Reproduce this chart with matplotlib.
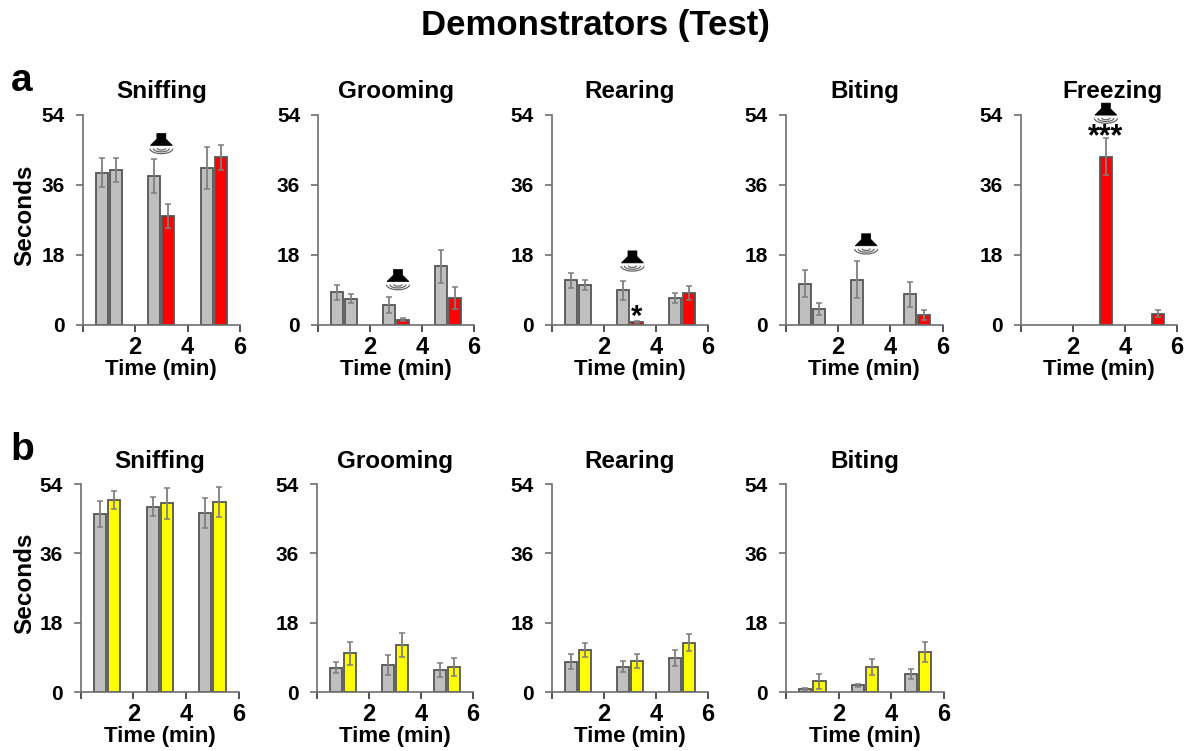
"""Demonstrators (Test): behaviour time per 2-min bin, panels a (red) and b (yellow)."""
import numpy as np
import matplotlib
matplotlib.use("Agg")
import matplotlib.pyplot as plt
from matplotlib.lines import Line2D
from matplotlib.patches import Polygon
from matplotlib.transforms import Affine2D

plt.rcParams["font.family"] = ["Liberation Sans", "DejaVu Sans"]
plt.rcParams["font.weight"] = "bold"

# ── Data (seconds) ────────────────────────────────────────────────────────────
BAR_X = [0.73, 1.27, 2.73, 3.27, 4.73, 5.27]
Y_TICKS = [0, 18, 36, 54]
X_TICKS = [0, 2, 4, 6]
X_LABELS = ["", "2", "4", "6"]

BEHAVIOURS_A = ["Sniffing", "Grooming", "Rearing", "Biting", "Freezing"]
BEHAVIOURS_B = ["Sniffing", "Grooming", "Rearing", "Biting"]

A_SNIFF = [39.2, 39.9, 38.3, 28.0, 40.4, 43.1]
A_SNIFF_ERR = [3.7, 3.1, 4.3, 3.0, 5.3, 3.2]
A_GROOM = [8.4, 6.8, 5.2, 1.4, 15.1, 6.9]
A_GROOM_ERR = [2.0, 1.2, 2.1, 0.4, 4.2, 2.8]
A_REAR = [11.5, 10.3, 8.9, 0.7, 7.0, 8.2]
A_REAR_ERR = [2.0, 1.4, 2.4, 0.3, 1.3, 1.8]
A_BITE = [10.6, 4.1, 11.7, 0, 7.9, 2.6]
A_BITE_ERR = [3.5, 1.5, 4.8, 0, 3.2, 1.2]
A_FREEZE = [0, 0, 0, 43.3, 0, 2.9]
A_FREEZE_ERR = [0, 0, 0, 4.8, 0, 0.9]

B_SNIFF = [46.2, 49.9, 48.1, 49.0, 46.5, 49.3]
B_SNIFF_ERR = [3.4, 2.3, 2.4, 4.0, 3.8, 3.9]
B_GROOM = [6.3, 10.1, 7.0, 12.2, 5.7, 6.5]
B_GROOM_ERR = [1.4, 3.0, 2.7, 3.1, 1.7, 2.3]
B_REAR = [7.9, 10.9, 6.6, 8.1, 8.8, 12.8]
B_REAR_ERR = [2.0, 1.9, 1.4, 1.8, 2.1, 2.2]
B_BITE = [0.7, 2.8, 1.7, 6.4, 4.7, 10.4]
B_BITE_ERR = [0.3, 2.0, 0.5, 2.1, 1.3, 2.7]

# which bars carry the row colour
HIGHLIGHT_A = [3, 5]
HIGHLIGHT_B = [1, 3, 5]

# speaker position per panel of row a: (time, seconds at the bottom of the icon)
SPEAKERS_A = [(3.0, 43.6), (3.07, 8.6), (3.1, 13.4), (3.07, 17.8), (3.27, 51.4)]
# ─────────────────────────────────────────────────────────────────────────────

W, H = 1188, 751
EDGE = "#555555"
AXIS = "#6e6e6e"
ERR = "#7f7f7f"
GREY = "#bfbfbf"

ROW_A = (115, 325, [82.7, 318.3, 551.7, 786, 1021], [240, 474, 708, 942.7, 1176.7])
ROW_B = (484, 692, [80.7, 316.7, 551.7, 786], [238.7, 473, 708, 944])


def panel_axes(fig, left, right, top, bottom):
    return fig.add_axes([left / W, 1 - bottom / H, (right - left) / W, (bottom - top) / H])


def draw_speaker(ax, x, y):
    """Small speaker icon, drawn in pixels above the anchor (x, y) in data coords."""
    px, py = ax.transData.transform((x, y))
    tr = Affine2D().translate(px, py)
    body = [(-4.5, 22), (4.5, 22), (4.5, 16.5), (11, 10), (-11, 10), (-4.5, 16.5)]
    ax.add_artist(Polygon(body, closed=True, fc="black", ec="black", lw=0.5,
                          transform=tr, clip_on=False))
    theta = np.linspace(np.pi * 1.05, np.pi * 1.95, 24)
    for rx, ry in [(4, 1.6), (8, 3.4), (11.5, 5.2)]:
        ax.add_artist(Line2D(rx * np.cos(theta), 7.0 + ry * np.sin(theta),
                             color="#666666", lw=0.9, transform=tr, clip_on=False))


def draw_panel(fig, box, title, values, errors, colour, highlight, ylabel=False, title_x=0.5):
    left, right, top, bottom = box
    ax = panel_axes(fig, left, right, top, bottom)
    colours = [colour if i in highlight else GREY for i in range(len(values))]
    for x, v, e, c in zip(BAR_X, values, errors, colours):
        if v == 0:
            continue
        ax.bar(x, v, width=0.46, color=c, edgecolor=EDGE, linewidth=1.3, zorder=2)
        ax.errorbar(x, v, yerr=e, ecolor=ERR, elinewidth=1.3, capsize=2.2,
                    capthick=1.1, fmt="none", zorder=3)
    ax.set_xlim(0, 6)
    ax.set_ylim(0, 54)
    ax.set_xticks(X_TICKS, X_LABELS)
    ax.set_yticks(Y_TICKS)
    ax.patch.set_alpha(0)
    for side in ("top", "right"):
        ax.spines[side].set_visible(False)
    for side in ("left", "bottom"):
        ax.spines[side].set_color(AXIS)
        ax.spines[side].set_linewidth(1.2)
    ax.tick_params(axis="x", length=5, width=1.2, color="#333333", pad=3, labelsize=17)
    ax.tick_params(axis="y", length=5, width=1.2, color=AXIS, pad=8, labelsize=15)
    for lab in ax.get_xticklabels() + ax.get_yticklabels():
        lab.set_fontweight("bold")
    ax.set_xlabel("Time (min)", fontsize=16, fontweight="bold", labelpad=0)
    ax.text(title_x, 1.11, title, transform=ax.transAxes, ha="center", va="center",
            fontsize=17.5, fontweight="bold")
    if ylabel:
        fig.text(25 / W, 1 - (top + bottom - 10) / 2 / H, "Seconds", rotation=90,
                 ha="center", va="center", fontsize=17.5, fontweight="bold")
    return ax


def main():
    fig = plt.figure(figsize=(W / 100, H / 100), dpi=100)
    fig.text(595 / W, 1 - 25 / H, "Demonstrators (Test)", ha="center", va="center",
             fontsize=25, fontweight="bold")
    fig.text(22 / W, 1 - 81 / H, "a", ha="center", va="center", fontsize=28, fontweight="bold")
    fig.text(22 / W, 1 - 450 / H, "b", ha="center", va="center", fontsize=28, fontweight="bold")

    series_a = [(A_SNIFF, A_SNIFF_ERR), (A_GROOM, A_GROOM_ERR), (A_REAR, A_REAR_ERR),
                (A_BITE, A_BITE_ERR), (A_FREEZE, A_FREEZE_ERR)]
    series_b = [(B_SNIFF, B_SNIFF_ERR), (B_GROOM, B_GROOM_ERR), (B_REAR, B_REAR_ERR),
                (B_BITE, B_BITE_ERR)]

    top, bottom, lefts, rights = ROW_A
    axes_a = []
    for i, (title, (vals, errs)) in enumerate(zip(BEHAVIOURS_A, series_a)):
        # the Freezing title sits right of the panel centre, over its tall bar
        title_x = 0.59 if title == "Freezing" else 0.5
        ax = draw_panel(fig, (lefts[i], rights[i], top, bottom), title, vals, errs,
                        "#ff0000", HIGHLIGHT_A, ylabel=i == 0, title_x=title_x)
        draw_speaker(ax, *SPEAKERS_A[i])
        axes_a.append(ax)

    # significance marks
    axes_a[2].text(BAR_X[3], A_REAR[3] + A_REAR_ERR[3] + 1.2, "*", ha="center", va="center",
                   fontsize=21)
    axes_a[4].text(BAR_X[3], A_FREEZE[3] + A_FREEZE_ERR[3] + 0.1, "***", ha="center",
                   va="center", fontsize=22, clip_on=False)

    top, bottom, lefts, rights = ROW_B
    for i, (title, (vals, errs)) in enumerate(zip(BEHAVIOURS_B, series_b)):
        draw_panel(fig, (lefts[i], rights[i], top, bottom), title, vals, errs,
                   "#ffff00", HIGHLIGHT_B, ylabel=i == 0)

    fig.savefig("out.png", dpi=100)


if __name__ == "__main__":
    main()
